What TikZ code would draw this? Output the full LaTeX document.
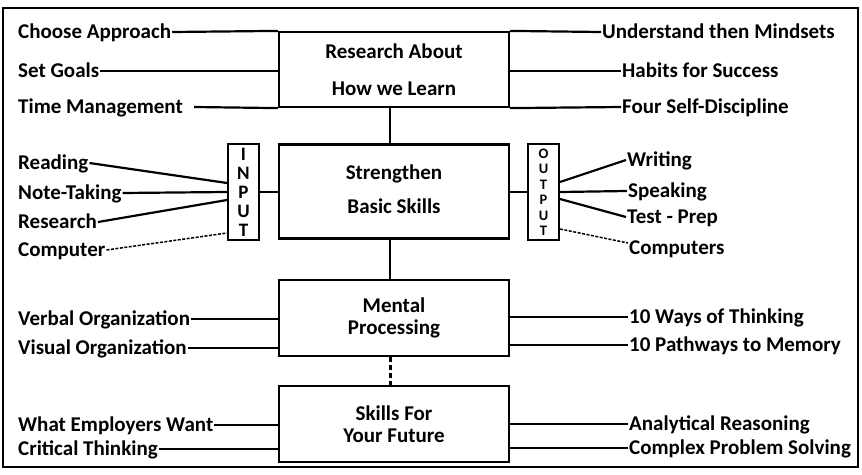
\documentclass[tikz,border=0pt]{standalone}
\usepackage{fontspec}
\setmainfont{Carlito}
\begin{document}
\begin{tikzpicture}[x=1pt,y=-1pt,
  txt/.style={font=\bfseries\fontsize{21}{25}\selectfont},
  lbl/.style={txt,anchor=west,inner sep=1pt,text height=13.5pt,text depth=0pt},
  mainbox/.style={txt,draw,line width=2.2pt,align=center,inner sep=0pt,minimum width=230pt},
  ioBox/.style={draw,line width=2pt,inner sep=0pt,minimum width=31pt,minimum height=96pt,align=center},
  conn/.style={line width=2.2pt},
  dconn/.style={line width=1.5pt,dash pattern=on 3pt off 1.5pt},
  dotconn/.style={line width=3pt,dash pattern=on 5pt off 3pt}]
\useasboundingbox (0,0) rectangle (862,474);
\draw[line width=2.2pt] (3,8) rectangle (858,467);

% main boxes
\node[mainbox,minimum height=75pt] (b1) at (394,69.5) {Research About\\[12pt]How we Learn};
\node[mainbox,minimum height=94pt] (b2) at (394,191.5) {\raisebox{7pt}{\begin{tabular}{@{}c@{}}Strengthen\\[9pt]Basic Skills\end{tabular}}};
\node[mainbox,minimum height=76pt] (b3) at (394,318) {\raisebox{4pt}{\begin{tabular}{@{}c@{}}Mental\\[-3pt]Processing\end{tabular}}};
\node[mainbox,minimum height=76pt] (b4) at (394,424) {Skills For\\[-3pt]Your Future};

% input/output boxes
\node[ioBox,font=\bfseries\fontsize{19}{19}\selectfont] (in) at (243.5,192) {I\\N\\P\\U\\T};
\node[ioBox,font=\bfseries\fontsize{14.5}{15.5}\selectfont] (out) at (543.5,192) {O\\U\\T\\P\\U\\T};

% vertical connectors
\draw[conn] ([xshift=-4pt]b1.south) -- ([xshift=-4pt]b2.north);
\draw[conn] ([xshift=-4pt]b2.south) -- ([xshift=-4pt]b3.north);
\draw[dotconn] ([xshift=-4pt]b3.south) -- ([xshift=-4pt]b4.north);
\draw[conn] (in.east) -- (b2.west |- in.east);
\draw[conn] (b2.east |- out.west) -- (out.west);

% box 1 labels
\node[lbl] (ca) at (17,32) {Choose Approach};
\node[lbl] (sg) at (17,71) {Set Goals};
\node[lbl] (tm) at (17,107) {Time Management};
\node[lbl] (um) at (601,32) {Understand then Mindsets};
\node[lbl] (hs) at (621,71) {Habits for Success};
\node[lbl] (fs) at (621,107) {Four Self-Discipline};
\draw[conn] (ca.east) -- (b1.north west);
\draw[conn] (sg.east) -- (sg.east -| b1.west);
\draw[conn] ([xshift=10pt]tm.east) -- (b1.south west);
\draw[conn] (b1.north east) -- (um.west);
\draw[conn] (hs.west -| b1.east) -- (hs.west);
\draw[conn] (b1.south east) -- (fs.west);

% input labels
\node[lbl] (rd) at (17,163) {Reading};
\node[lbl] (nt) at (17,193) {Note-Taking};
\node[lbl] (rs) at (17,222) {Research};
\node[lbl] (cp) at (17,250) {Computer};
\draw[conn] (rd.east) -- ([yshift=9pt]in.west);
\draw[conn] (nt.east) -- (in.west);
\draw[conn] (rs.east) -- ([yshift=-8pt]in.west);
\draw[dconn] (cp.east) -- ([yshift=-41pt]in.west);

% output labels
\node[lbl] (wr) at (626,160) {Writing};
\node[lbl] (sp) at (627,191) {Speaking};
\node[lbl] (tp) at (626,217) {Test - Prep};
\node[lbl] (cs) at (628,248) {Computers};
\draw[conn] ([yshift=10pt]out.east) -- (wr.west);
\draw[conn] (out.east) -- (sp.west);
\draw[conn] ([yshift=-7pt]out.east) -- (tp.west);
\draw[dconn] ([yshift=-37pt]out.east) -- ([yshift=5pt]cs.west);

% box 3 labels
\node[lbl] (vo) at (17,319) {Verbal Organization};
\node[lbl] (vi) at (17,348) {Visual Organization};
\node[lbl] (wt) at (628,317) {10 Ways of Thinking};
\node[lbl] (pm) at (628,345) {10 Pathways to Memory};
\draw[conn] (vo.east) -- (vo.east -| b3.west);
\draw[conn] (vi.east) -- (vi.east -| b3.west);
\draw[conn] (wt.west -| b3.east) -- (wt.west);
\draw[conn] (pm.west -| b3.east) -- (pm.west);

% box 4 labels
\node[lbl] (we) at (17,425) {What Employers Want};
\node[lbl] (ct) at (17,449) {Critical Thinking};
\node[lbl] (ar) at (628,424) {Analytical Reasoning};
\node[lbl] (cx) at (628,448) {Complex Problem Solving};
\draw[conn] (we.east) -- (we.east -| b4.west);
\draw[conn] (ct.east) -- (ct.east -| b4.west);
\draw[conn] (ar.west -| b4.east) -- (ar.west);
\draw[conn] (cx.west -| b4.east) -- (cx.west);
\end{tikzpicture}
\end{document}
